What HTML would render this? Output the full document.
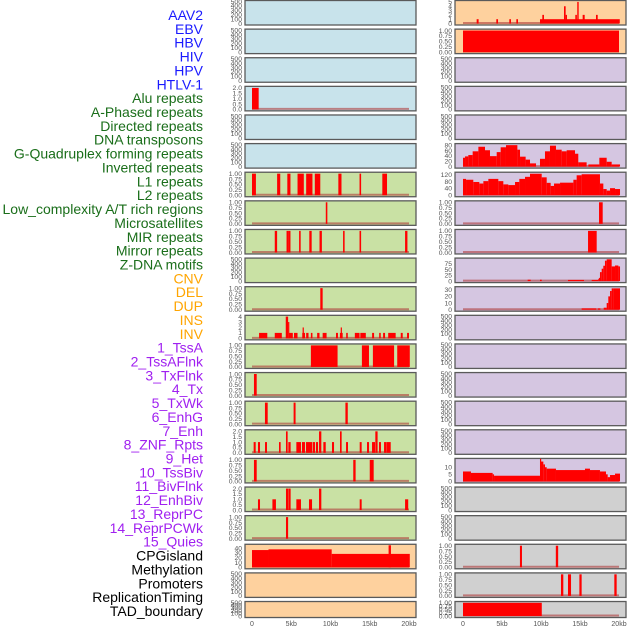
<!DOCTYPE html>
<html><head><meta charset="utf-8"><style>
html,body{margin:0;padding:0;background:#fff;}
svg{display:block;font-family:"Liberation Sans",sans-serif;}
</style></head><body>
<svg id="chart" width="630" height="630" viewBox="0 0 630 630" xmlns="http://www.w3.org/2000/svg"></svg>
<script>
// ---- labels ----
const trackLabels=["AAV2","EBV","HBV","HIV","HPV","HTLV-1","Alu repeats","A-Phased repeats","Directed repeats","DNA transposons","G-Quadruplex forming repeats","Inverted repeats","L1 repeats","L2 repeats","Low_complexity A/T rich regions","Microsatellites","MIR repeats","Mirror repeats","Z-DNA motifs","CNV","DEL","DUP","INS","INV","1_TssA","2_TssAFlnk","3_TxFlnk","4_Tx","5_TxWk","6_EnhG","7_Enh","8_ZNF_Rpts","9_Het","10_TssBiv","11_BivFlnk","12_EnhBiv","13_ReprPC","14_ReprPCWk","15_Quies","CPGisland","Methylation","Promoters","ReplicationTiming","TAD_boundary"];
const labelGroupSizes=[6,13,5,15,5];
const xTickValues=[0,5,10,15,20];
const xTickLabels=["0","5kb","10kb","15kb","20kb"];
// ---- series segments [startKb,endKb,value] ----
const segL04=[[0,0.85,2]];
const segL07=[[0,0.5,1],[3.2,3.6,1],[4.5,4.9,1],[5.8,6.6,1],[6.9,7.7,1],[8.0,8.7,1],[11.0,11.4,1],[13.7,13.9,1],[16.6,17.2,1]];
const segL08=[[9.4,9.6,1]];
const segL09=[[2.9,3.2,1],[4.4,4.6,1],[4.6,4.9,1],[6.0,6.2,1],[7.3,7.6,1],[8.6,8.9,1],[11.6,11.8,1],[13.7,13.9,1],[19.5,19.8,1]];
const segL11=[[8.7,9.0,1]];
const segL12=[[0.9,1.95,1],[2.9,3.8,1],[4.3,4.6,4],[4.6,4.7,3],[4.7,5.2,1],[5.35,5.8,1],[6.4,6.75,1],[6.45,6.6,2],[6.9,7.2,1],[7.5,7.7,1],[8.3,8.6,1],[9.0,9.5,1],[10.7,10.95,1],[11.2,11.55,1],[11.3,11.45,2],[12.0,12.2,1],[13.1,13.7,1],[13.8,14.5,1],[15.3,15.55,1],[16.2,16.4,1],[16.7,16.95,1],[17.35,18.3,1],[18.95,19.2,1],[19.75,20.0,1]];
const segL13=[[7.5,10.9,1],[14.0,14.9,1],[15.4,18.1,1],[18.5,20.1,1]];
const segL14=[[0.25,0.6,1]];
const segL15=[[1.65,2.0,1],[5.3,5.55,1],[11.9,12.2,1]];
const segL16=[[0.21,0.47,1],[0.76,1.02,1],[1.66,1.91,1],[3.44,3.65,1],[4.33,4.54,2],[4.63,4.92,1],[5.65,6.24,1],[6.37,6.75,1],[6.88,7.69,1],[7.77,8.03,1],[8.15,8.41,1],[8.54,8.83,2],[9.09,9.39,1],[10.19,10.45,1],[11.21,11.42,2],[11.98,12.23,1],[13.72,13.97,1],[14.65,14.91,1],[15.29,15.67,1],[15.71,16.0,2],[16.18,16.43,1],[16.82,17.07,1],[17.1,17.67,1]];
const segL17=[[0.25,0.6,1],[12.9,13.2,1],[15.0,15.5,1]];
const segL18=[[0.76,1.02,1],[2.6,3.05,1],[4.33,4.6,2],[4.63,4.92,2],[5.65,6.24,1],[7.26,7.65,1],[8.54,8.83,2],[13.72,13.97,1],[19.5,19.9,1]];
const segL19=[[4.33,4.6,1]];
const segL20=[[0,2.1,36],[2.1,10.15,37.5],[10.15,20.1,28],[17.4,17.7,46]];
const segR01=[[1.75,2.0,1],[4.27,4.49,1],[5.94,6.15,1],[6.84,7.05,1],[9.87,20.1,1],[10.17,10.38,2],[12.95,13.16,4],[13.16,13.33,2],[14.4,14.6,2],[14.65,14.83,5],[15.34,15.6,2],[17.05,17.27,2]];
const segR02=[[0,20,1]];
const segR06=[[0,0.26,33],[0.26,0.68,38],[0.68,1.24,43],[1.24,1.97,57],[1.97,2.82,74],[2.82,3.46,61],[3.46,4.32,39],[4.32,4.83,54],[4.83,5.51,72],[5.51,6.97,80],[6.97,7.31,63],[7.31,8.03,37],[8.03,8.59,26],[8.59,9.36,12],[9.87,10.51,29],[10.51,11.15,57],[11.15,11.92,78],[11.92,12.65,63],[12.65,13.29,57],[13.29,14.36,61],[14.36,14.78,48],[14.78,15.85,16],[16.07,17.48,8],[17.48,18.42,33],[18.42,19.06,18],[19.06,20.13,8]];
const segR07=[[0,0.39,95],[0.39,1.32,90],[1.32,2.09,77],[2.09,2.61,68],[2.61,3.25,82],[3.25,4.53,95],[4.53,5.17,82],[5.17,5.81,63],[5.81,6.67,59],[6.67,7.22,77],[7.22,7.95,95],[7.95,8.59,107],[8.59,10.09,125],[10.09,10.73,104],[10.73,11.24,72],[11.24,11.67,54],[11.67,12.44,68],[12.44,14.15,73],[14.15,14.57,90],[14.57,15.21,116],[15.21,17.56,122],[17.56,17.99,68],[17.99,18.42,36],[18.42,18.85,27],[18.85,19.49,41],[19.49,20.13,36]];
const segR08=[[17.44,17.91,1]];
const segR09=[[16.03,17.14,1]];
const segR10=[[8.29,8.68,6],[9.87,10.09,6],[13.46,15.51,5],[16.5,17.35,5],[17.35,17.44,10],[17.44,17.56,14],[17.56,17.78,39],[17.78,17.99,54],[17.99,18.2,67],[18.2,18.42,89],[18.42,19.06,95],[19.06,19.49,64],[19.49,19.92,68],[19.92,20.13,64]];
const segR11=[[15.21,17.1,2],[17.27,17.61,2],[18.04,18.42,3],[18.42,18.63,10],[18.63,18.85,20],[18.85,19.06,28],[19.06,19.28,32],[19.28,20.13,32]];
const segR17=[[0,1.02,7],[1.02,3.8,6],[3.8,3.98,5],[3.98,9.87,4],[9.87,10.0,16],[10.0,10.3,14],[10.3,10.51,12],[10.51,10.73,10],[10.73,11.92,9],[11.92,15.64,8],[15.64,16.28,9],[16.28,17.56,8],[17.56,18.33,7],[18.33,18.55,5],[18.55,18.85,3],[18.85,19.49,4.5],[19.49,20.13,5.5]];
const segR19=[[7.3,7.56,1],[11.9,12.2,1]];
const segR20=[[12.56,12.86,1],[13.46,13.85,1],[14.92,15.21,1],[19.4,19.7,1]];
const segR22=[[0,10.1,1]];
// ---- axis tick sets ----
const ticksEmpty=[0,100,200,300,400,500];
const ticksBinary=[0,0.25,0.5,0.75,1];
const ticksTwo=[0,0.5,1,1.5,2];
const ticksFour=[0,1,2,3,4];
const ticksFive=[0,1,2,3,4,5];
const ticksCpg=[0,10,20,30,40];
const ticksGq=[0,20,40,60,80];
const ticksL1=[0,40,80,120];
const ticksZ=[0,25,50,75];
const ticksDup=[0,10,20,30];
const ticksBiv=[0,5,10];

const BG={blue:"#c8e3eb",green:"#c9e1a4",orange:"#fed19e",purple:"#d5c6e1",gray:"#d0d0d0"};
const E=null;
const panels=[
 [0,0,"blue",E,ticksEmpty,500,0],[0,1,"blue",E,ticksEmpty,500,0],[0,2,"blue",E,ticksEmpty,500,0],
 [0,3,"blue",segL04,ticksTwo,2.05,1],[0,4,"blue",E,ticksEmpty,500,0],[0,5,"blue",E,ticksEmpty,500,0],
 [0,6,"green",segL07,ticksBinary,1.02,2],[0,7,"green",segL08,ticksBinary,1.02,2],[0,8,"green",segL09,ticksBinary,1.02,2],
 [0,9,"green",E,ticksEmpty,500,0],[0,10,"green",segL11,ticksBinary,1.02,2],[0,11,"green",segL12,ticksFour,4.05,0],
 [0,12,"green",segL13,ticksBinary,1.02,2],[0,13,"green",segL14,ticksBinary,1.02,2],[0,14,"green",segL15,ticksBinary,1.02,2],
 [0,15,"green",segL16,ticksTwo,2.05,1],[0,16,"green",segL17,ticksBinary,1.02,2],[0,17,"green",segL18,ticksTwo,2.05,1],
 [0,18,"green",segL19,ticksBinary,1.02,2],[0,19,"orange",segL20,ticksCpg,46,0],[0,20,"orange",E,ticksEmpty,500,0],
 [0,21,"orange",E,ticksEmpty,500,0],
 [1,0,"orange",segR01,ticksFive,5.1,0],[1,1,"orange",segR02,ticksBinary,1.02,2],[1,2,"purple",E,ticksEmpty,500,0],
 [1,3,"purple",E,ticksEmpty,500,0],[1,4,"purple",E,ticksEmpty,500,0],[1,5,"purple",segR06,ticksGq,82,0],
 [1,6,"purple",segR07,ticksL1,128,0],[1,7,"purple",segR08,ticksBinary,1.02,2],[1,8,"purple",segR09,ticksBinary,1.02,2],
 [1,9,"purple",segR10,ticksZ,96,0],[1,10,"purple",segR11,ticksDup,33,0],[1,11,"purple",E,ticksEmpty,500,0],
 [1,12,"purple",E,ticksEmpty,500,0],[1,13,"purple",E,ticksEmpty,500,0],[1,14,"purple",E,ticksEmpty,500,0],
 [1,15,"purple",E,ticksEmpty,500,0],[1,16,"purple",segR17,ticksBiv,15.5,0],[1,17,"gray",E,ticksEmpty,500,0],
 [1,18,"gray",E,ticksEmpty,500,0],[1,19,"gray",segR19,ticksBinary,1.02,2],[1,20,"gray",segR20,ticksBinary,1.02,2],
 [1,21,"gray",segR22,ticksBinary,1.02,2]
];
const NS="http://www.w3.org/2000/svg";
const svg=document.getElementById("chart");
function mk(tag,attrs,parent){const e=document.createElementNS(NS,tag);for(const k in attrs)e.setAttribute(k,attrs[k]);(parent||svg).appendChild(e);return e;}
const colX=[[245,416,252,409],[455,626,463,619]];
function xScale(c,kb){const d=colX[c];return d[2]+(kb/20)*(d[3]-d[2]);}
function rowTop(r){return 0.5+r*28.62;}
function rowH(r){return r===21?16:24.5;}

const groupColors=["#1a1aff","#1a6e1a","#ffa500","#a020f0","#000000"];
let li=0;
labelGroupSizes.forEach((n,g)=>{for(let k=0;k<n;k++,li++){
  const t=mk("text",{x:203,y:(15+li*13.86+5).toFixed(1),"text-anchor":"end","font-size":"14",fill:groupColors[g]});
  
  
  t.textContent=trackLabels[li];
}});

panels.forEach(p=>{
  const [c,r,bg,segs,ticks,dmax,dec]=p;
  const x0=colX[c][0],x1=colX[c][1],top=rowTop(r),h=rowH(r),bot=top+h;
  const g=mk("g",{});
  
  
  const rect=mk("rect",{x:x0,y:top,width:x1-x0,height:h,fill:BG[bg],stroke:"#5a5a5a","stroke-width":"1.3"},g);
  
  
  const yTop=top+1,yBot=bot-1.5;
  const yS=v=>yBot-(v/dmax)*(yBot-yTop);
  ticks.forEach(v=>{
    const t=mk("text",{x:c===0?242:452,y:(yS(v)+2.3).toFixed(1),"text-anchor":"end","font-size":"6.8",fill:"#555"},g);
    
    
    t.textContent=v.toFixed(dec);
  });
  if(segs){
    const bl=mk("line",{x1:xScale(c,0),x2:xScale(c,20),y1:yBot-0.5,y2:yBot-0.5,stroke:"rgba(175,60,60,0.6)","stroke-width":"2"},g);
    
    
    segs.forEach(s=>{
      const xa=xScale(c,s[0]),xb=xScale(c,s[1]);
      const b=mk("rect",{x:xa.toFixed(2),y:yS(s[2]).toFixed(2),width:Math.max(1.2,xb-xa).toFixed(2),height:(yBot-yS(s[2])).toFixed(2),fill:"#ff0000"},g);
      
      
    });
  }
});
[0,1].forEach(c=>{xTickValues.forEach((v,i)=>{
  const t=mk("text",{x:xScale(c,v),y:626,"text-anchor":"middle","font-size":"7",fill:"#555"});
  
  
  t.textContent=xTickLabels[i];
});});
</script>
</body></html>
